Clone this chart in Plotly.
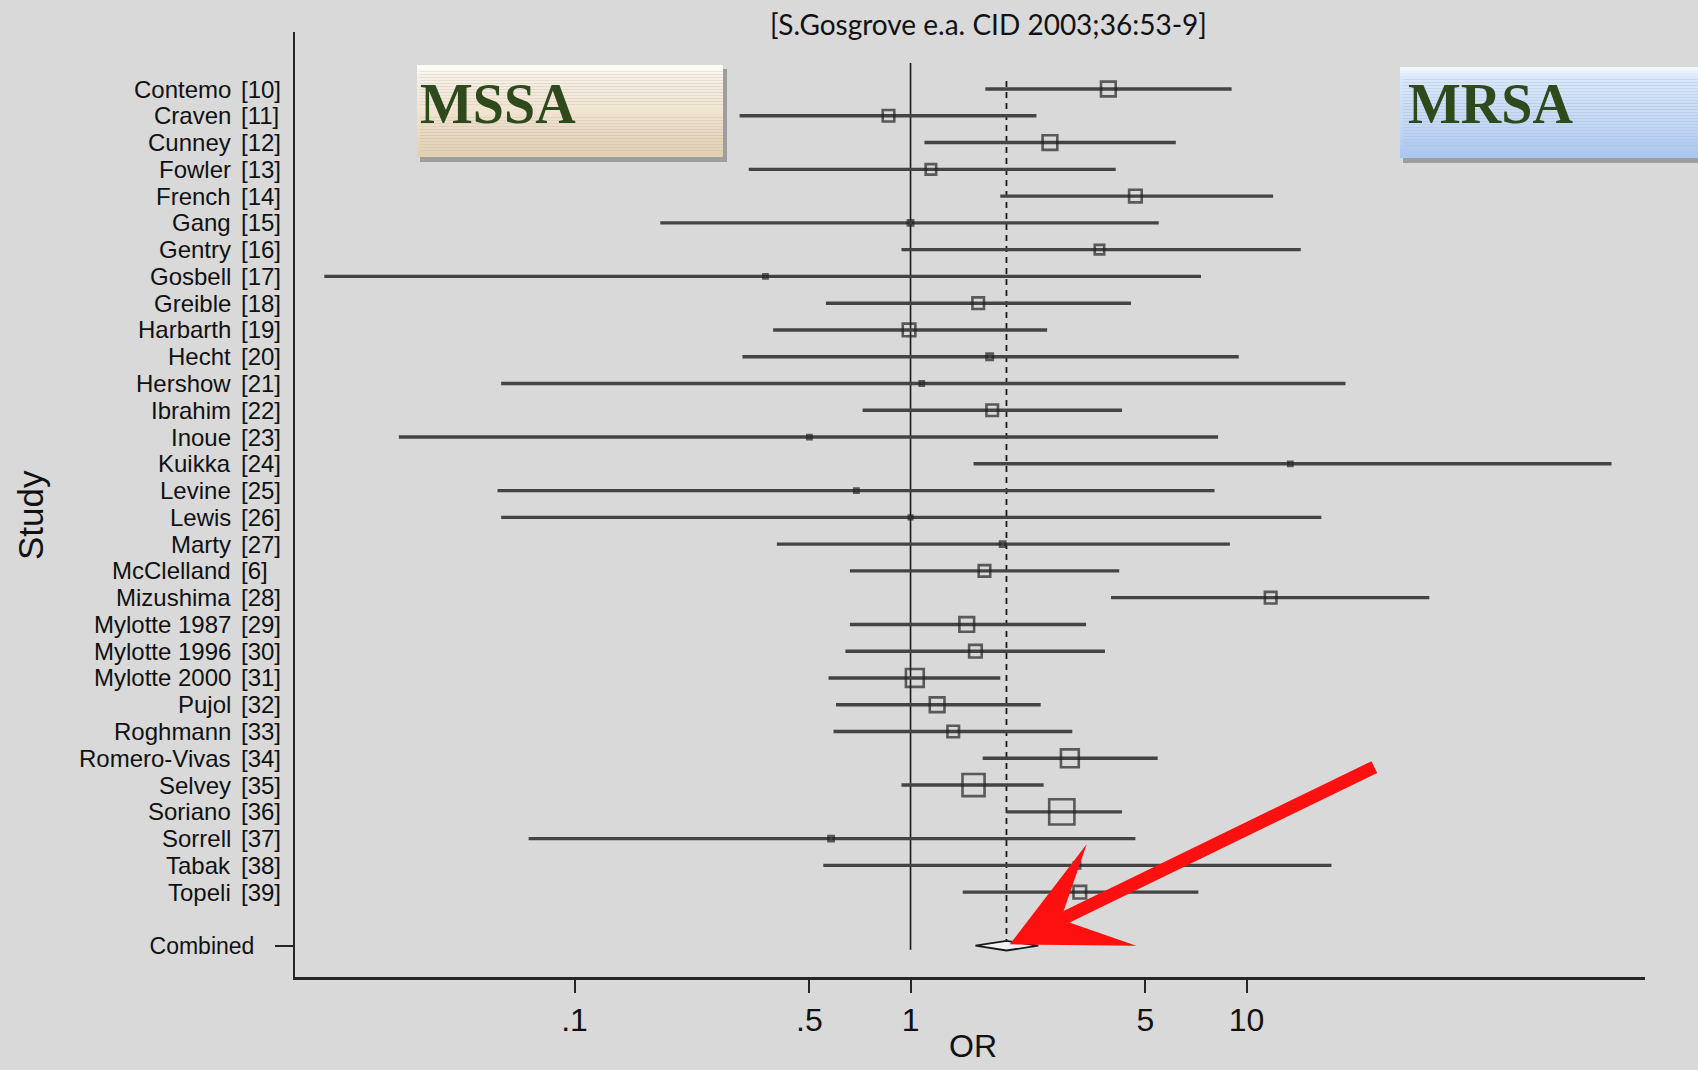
import numpy as np
import plotly.graph_objects as go

# ---------------- data ----------------
studies = ["Contemo", "Craven", "Cunney", "Fowler", "French", "Gang", "Gentry",
           "Gosbell", "Greible", "Harbarth", "Hecht", "Hershow", "Ibrahim", "Inoue",
           "Kuikka", "Levine", "Lewis", "Marty", "McClelland", "Mizushima",
           "Mylotte 1987", "Mylotte 1996", "Mylotte 2000", "Pujol", "Roghmann",
           "Romero-Vivas", "Selvey", "Soriano", "Sorrell", "Tabak", "Topeli"]
refs = ["[10]", "[11]", "[12]", "[13]", "[14]", "[15]", "[16]", "[17]", "[18]", "[19]",
        "[20]", "[21]", "[22]", "[23]", "[24]", "[25]", "[26]", "[27]", "[6]", "[28]",
        "[29]", "[30]", "[31]", "[32]", "[33]", "[34]", "[35]", "[36]", "[37]", "[38]", "[39]"]
odds_ratio = [3.88, 0.86, 2.60, 1.15, 4.67, 1.00, 3.65, 0.37, 1.59, 0.99, 1.72, 1.08,
              1.75, 0.50, 13.5, 0.69, 1.00, 1.88, 1.66, 11.8, 1.47, 1.56, 1.03, 1.20,
              1.34, 2.98, 1.54, 2.82, 0.58, 3.13, 3.19]
ci_low = [1.67, 0.31, 1.10, 0.33, 1.85, 0.18, 0.94, 0.018, 0.56, 0.39, 0.316, 0.0605,
          0.72, 0.030, 1.54, 0.059, 0.0605, 0.40, 0.66, 3.95, 0.66, 0.64, 0.57, 0.60,
          0.59, 1.64, 0.94, 1.93, 0.073, 0.55, 1.43]
ci_high = [9.03, 2.37, 6.16, 4.08, 12.0, 5.48, 14.5, 7.32, 4.53, 2.55, 9.48, 19.7,
           4.26, 8.23, 122.0, 8.03, 16.7, 8.92, 4.18, 35.0, 3.33, 3.79, 1.85, 2.44,
           3.03, 5.44, 2.49, 4.26, 4.67, 17.9, 7.19]
weights = [1.96, 1.21, 1.96, 1.00, 1.44, 0.25, 0.81, 0.16, 1.21, 1.44, 0.36, 0.16,
           1.21, 0.16, 0.16, 0.16, 0.04, 0.25, 1.21, 1.21, 1.96, 1.44, 2.89, 1.96,
           1.21, 2.89, 4.41, 5.76, 0.25, 0.36, 1.44]
combined_label = "Combined"
combined_or = 1.93
combined_low = 1.56
combined_high = 2.40
x_tick_vals = [0.1, 0.5, 1, 5, 10]
x_tick_text = [".1", ".5", "1", "5", "10"]
x_title = "OR"
y_title = "Study"
citation = "[S.Gosgrove e.a. CID 2003;36:53-9]"

# ---------------- layout geometry ----------------
W, H = 1698, 1070
L_PX, R_PX, T_PX, B_PX = 295, 1645, 32, 977
PW, PH = R_PX - L_PX, B_PX - T_PX


def px_x(px):
    return (px - L_PX) / PW


def px_y(py):
    return (B_PX - py) / PH


n = len(studies)
rows = list(range(n))
combined_row = n + 1
ink = "#262626"
label_font = dict(family="Liberation Sans, Arial", size=24, color="#111111")

fig = go.Figure()

# reference lines (OR = 1 solid, pooled OR dashed)
fig.add_trace(go.Scatter(x=[1, 1], y=[-0.97, combined_row + 0.15], mode="lines",
                         line=dict(color="#1a1a1a", width=1.6), hoverinfo="skip",
                         showlegend=False))
fig.add_trace(go.Scatter(x=[combined_or, combined_or], y=[-0.3, combined_row],
                         mode="lines", line=dict(color="#1a1a1a", width=1.8, dash="6px,5px"),
                         hoverinfo="skip", showlegend=False))

# study estimates with CIs
or_arr = np.array(odds_ratio)
fig.add_trace(go.Scatter(
    x=odds_ratio, y=rows, mode="markers",
    marker=dict(symbol="square-open", size=[max(3.5, 10.5 * np.sqrt(w)) for w in weights],
                color="#222222", line=dict(width=2.6, color="#222222")),
    error_x=dict(type="data", symmetric=False,
                 array=list(np.array(ci_high) - or_arr),
                 arrayminus=list(or_arr - np.array(ci_low)),
                 thickness=3.4, width=0, color="#444444"),
    showlegend=False, hoverinfo="skip"))

# combined diamond
dh = 0.18
fig.add_trace(go.Scatter(
    x=[combined_low, combined_or, combined_high, combined_or, combined_low],
    y=[combined_row, combined_row - dh, combined_row, combined_row + dh, combined_row],
    mode="lines", fill="toself", fillcolor="#f2f2f2",
    line=dict(color="#1a1a1a", width=1.8), showlegend=False, hoverinfo="skip"))

annotations = []
# study name / reference columns
for i, (s, r) in enumerate(zip(studies, refs)):
    annotations.append(dict(x=px_x(233), y=i, xref="paper", yref="y", text=s,
                            showarrow=False, xanchor="right", yanchor="middle",
                            font=label_font))
    annotations.append(dict(x=px_x(239), y=i, xref="paper", yref="y", text=r,
                            showarrow=False, xanchor="left", yanchor="middle",
                            font=label_font))

# axis titles
annotations.append(dict(x=px_x(30), y=px_y(515), xref="paper", yref="paper", text=y_title,
                        textangle=-90, showarrow=False, xanchor="center", yanchor="middle",
                        font=dict(family="Liberation Sans, Arial", size=35, color="#111111")))
annotations.append(dict(x=px_x(973), y=px_y(1046), xref="paper", yref="paper", text=x_title,
                        showarrow=False, xanchor="center", yanchor="middle",
                        font=dict(family="Liberation Sans, Arial", size=32, color="#111111")))
# citation
annotations.append(dict(x=px_x(988), y=px_y(24), xref="paper", yref="paper", text=citation,
                        showarrow=False, xanchor="center", yanchor="middle",
                        font=dict(family="Lato, Open Sans", size=28, color="#111111")))
# MSSA / MRSA labels
annotations.append(dict(x=px_x(418), y=px_y(104), xref="paper", yref="paper", text="<b>MSSA</b>",
                        showarrow=False, xanchor="left", yanchor="middle",
                        font=dict(family="Liberation Serif, Times New Roman", size=56, color="#2e4a1c")))
annotations.append(dict(x=px_x(1406), y=px_y(104), xref="paper", yref="paper", text="<b>MRSA</b>",
                        showarrow=False, xanchor="left", yanchor="middle",
                        font=dict(family="Liberation Serif, Times New Roman", size=56, color="#2e4a1c")))
# red arrow pointing to pooled estimate
annotations.append(dict(x=np.log10(combined_or) + 0.01, y=combined_row - 0.05, xref="x", yref="y",
                        text="", showarrow=True, ax=366, ay=-178, arrowhead=3, arrowsize=1.45,
                        arrowwidth=13, arrowcolor="#ff1010", standoff=0))

shapes = []


def hexrgb(h):
    h = h.lstrip("#")
    return tuple(int(h[k:k + 2], 16) for k in (0, 2, 4))


def gradient_box(x0, y0, x1, y1, stops, nb=30):
    # shadow
    shapes.append(dict(type="rect", xref="paper", yref="paper", layer="below",
                       x0=px_x(x0 + 3), x1=px_x(x1 + 4), y0=px_y(y0 + 4), y1=px_y(y1 + 5),
                       fillcolor="rgba(110,110,110,0.55)", line=dict(width=0)))
    for k in range(nb):
        t = (k + 0.5) / nb
        for j in range(len(stops) - 1):
            t0, c0 = stops[j]
            t1, c1 = stops[j + 1]
            if t0 <= t <= t1:
                f = (t - t0) / (t1 - t0)
                a, b = hexrgb(c0), hexrgb(c1)
                col = "rgb(%d,%d,%d)" % tuple(round(a[m] + (b[m] - a[m]) * f) for m in range(3))
                break
        ya = y0 + (y1 - y0) * k / nb
        yb = y0 + (y1 - y0) * (k + 1) / nb
        shapes.append(dict(type="rect", xref="paper", yref="paper", layer="below",
                           x0=px_x(x0), x1=px_x(x1), y0=px_y(yb), y1=px_y(ya),
                           fillcolor=col, line=dict(width=0)))


gradient_box(417, 65, 723, 157, [(0, "#fefefc"), (0.12, "#f8f1e6"), (0.6, "#eee0ca"), (1, "#e2cfb2")])
gradient_box(1400, 67, 1705, 158, [(0, "#f4f9ff"), (0.12, "#d9e8fc"), (0.6, "#c4daf8"), (1, "#a9c6ef")])

fig.update_layout(
    width=W, height=H,
    margin=dict(l=L_PX, r=W - R_PX, t=T_PX, b=H - B_PX, pad=0, autoexpand=False),
    paper_bgcolor="#d9d9d9", plot_bgcolor="#d9d9d9",
    showlegend=False,
    annotations=annotations,
    shapes=shapes,
    xaxis=dict(type="log", range=[-1.832, 2.186], tickvals=x_tick_vals, ticktext=x_tick_text,
               ticks="outside", ticklen=13, tickwidth=2, tickcolor=ink, automargin=False,
               showline=True, linewidth=3, linecolor=ink, showgrid=False, zeroline=False,
               tickfont=dict(family="Liberation Sans, Arial", size=32, color="#111111")),
    yaxis=dict(range=[33.17, -2.13], tickvals=[combined_row], ticktext=[combined_label],
               ticks="outside", ticklen=18, tickwidth=2, tickcolor=ink, ticklabelstandoff=16,
               automargin=False,
               showline=True, linewidth=2, linecolor=ink, showgrid=False, zeroline=False,
               tickfont=dict(family="Liberation Sans, Arial", size=23, color="#111111")),
)

fig.write_html("out.html")
